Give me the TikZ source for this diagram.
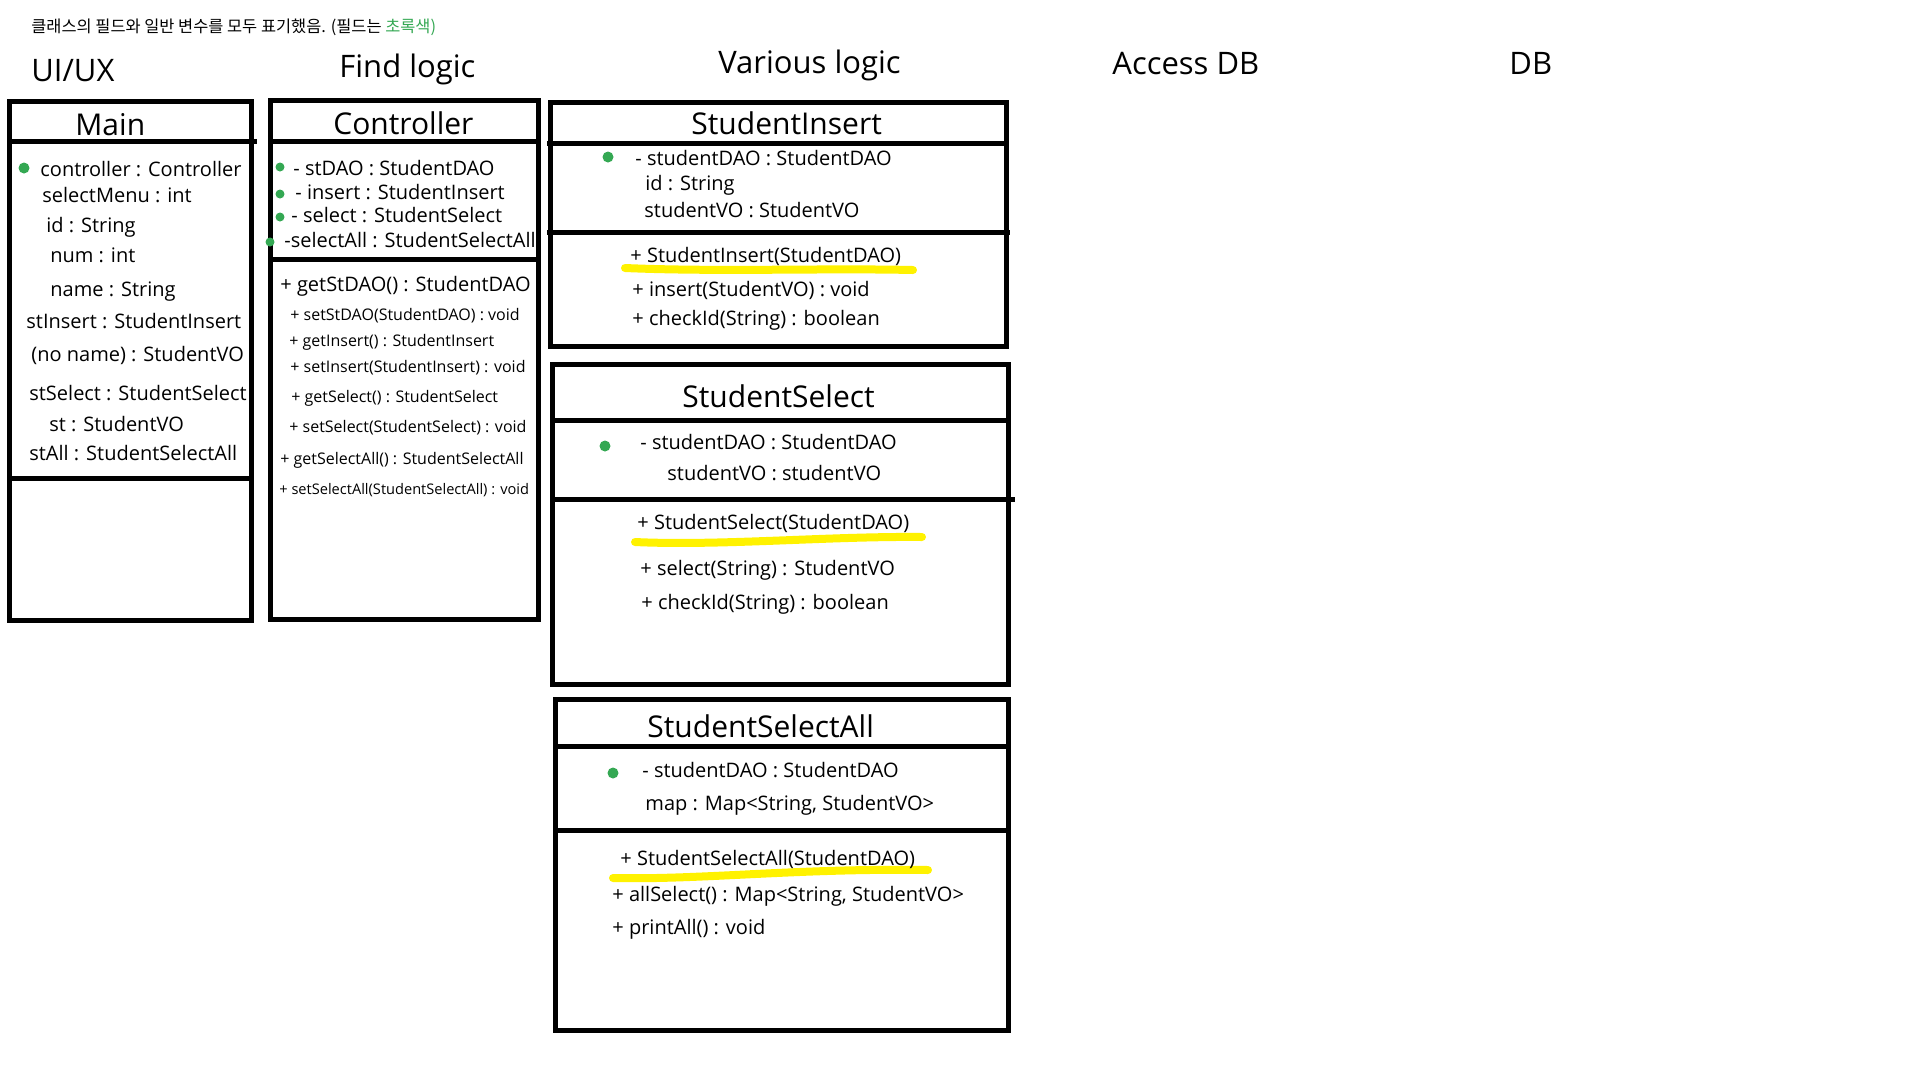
\documentclass[tikz,border=0pt]{standalone}
\usepackage{fontspec}
\setmainfont{Open Sans}
\newfontfamily\krfont{Noto Sans CJK KR}
\definecolor{fieldgreen}{RGB}{52,168,83}
\definecolor{hiyellow}{RGB}{255,242,0}
\tikzset{
  box/.style={line width=2.5pt},
  txt/.style={anchor=base west, inner sep=0pt, font=\fontsize{10}{12}\selectfont},
  small/.style={txt, font=\fontsize{8}{10}\selectfont},
  title/.style={anchor=base west, inner sep=0pt, font=\fontsize{15}{18}\selectfont},
  head/.style={anchor=base west, inner sep=0pt, font=\fontsize{15.5}{18}\selectfont},
  dot/.style={fill=fieldgreen},
  hiline/.style={hiyellow, line width=4pt, line cap=round}
}
\begin{document}
\begin{tikzpicture}[x=0.5pt,y=-0.5pt]
  \useasboundingbox (0,0) rectangle (1924,1084);
  % note and layer names
  \node[txt, font=\krfont\fontsize{8.2}{10}\selectfont] (note) at (31,32)
    {클래스의 필드와 일반 변수를 모두 표기했음. (필드는 \textcolor{fieldgreen}{초록색)}};
  \node[head] (uiux) at (31,81) {UI/UX};
  \node[head] (findlogic) at (339,77) {Find logic};
  \node[head] (various) at (718,73) {Various logic};
  \node[head] (accessdb) at (1112,74) {Access DB};
  \node[head] (db) at (1509,74) {DB};

  % Main
  \draw[box] (9,101) rectangle (251,620);
  \draw[box] (9,141) -- (257,141);
  \draw[box] (9,478) -- (251,478);
  \node[title] (main) at (75,135) {Main};
  \fill[dot] (24,168) circle (5.5);
  \foreach \x/\y/\t [count=\i] in {40/176/controller : Controller,
      42/202/selectMenu : int, 46/232/id : String, 50/262/num : int,
      50/296/name : String, 26/328/stInsert : StudentInsert,
      31/361/(no name) : StudentVO, 29/400/stSelect : StudentSelect,
      49/431/st : StudentVO, 29/460/stAll : StudentSelectAll}
    \node[txt] (mainf\i) at (\x,\y) {\t};

  % Controller
  \draw[box] (270,100) rectangle (538,619);
  \draw[box] (270,141) -- (538,141);
  \draw[box] (270,259) -- (538,259);
  \node[title] (ctrl) at (333,134) {Controller};
  \foreach \x/\y in {280/167,280/194,280/217,270/242}
    \fill[dot] (\x,\y) circle (4.5);
  \foreach \x/\y/\t [count=\i] in {293/175/- stDAO : StudentDAO,
      295/199/- insert : StudentInsert, 291/222/- select : StudentSelect,
      284/247/-selectAll : StudentSelectAll}
    \node[txt] (ctrlf\i) at (\x,\y) {\t};
  \node[txt] (ctrlm1) at (280,291) {+ getStDAO() : StudentDAO};
  \foreach \x/\y/\t [count=\i from 2] in {290/320/+ setStDAO(StudentDAO) : void,
      289/346/+ getInsert() : StudentInsert, 290/372/+ setInsert(StudentInsert) : void,
      291/402/+ getSelect() : StudentSelect, 289/432/+ setSelect(StudentSelect) : void,
      280/464/+ getSelectAll() : StudentSelectAll}
    \node[small] (ctrlm\i) at (\x,\y) {\t};
  \node[small, font=\fontsize{7.3}{9}\selectfont] (ctrlm8) at (279,494)
    {+ setSelectAll(StudentSelectAll) : void};

  % StudentInsert
  \draw[box] (550,102) rectangle (1006,346);
  \draw[box] (547,143) -- (1006,143);
  \draw[box] (547,232) -- (1010,232);
  \node[title] (insert) at (691,134) {StudentInsert};
  \fill[dot] (608,157) circle (5.5);
  \node[txt] (insf1) at (635,165) {- studentDAO : StudentDAO};
  \node[txt] (insf2) at (645,190) {id : String};
  \node[txt] (insf3) at (644,217) {studentVO : StudentVO};
  \draw[hiline] (625,268) .. controls (720,272) and (820,268) .. (913,270);
  \node[txt] (insm1) at (630,262) {+ StudentInsert(StudentDAO)};
  \node[txt] (insm2) at (632,296) {+ insert(StudentVO) : void};
  \node[txt] (insm3) at (632,325) {+ checkId(String) : boolean};

  % StudentSelect
  \draw[box] (552,364) rectangle (1008,684);
  \draw[box] (552,420) -- (1008,420);
  \draw[box] (550,499) -- (1015,499);
  \node[title] (select) at (682,407) {StudentSelect};
  \fill[dot] (605,446) circle (5.5);
  \node[txt] (self1) at (640,449) {- studentDAO : StudentDAO};
  \node[txt] (self2) at (667,480) {studentVO : studentVO};
  \draw[hiline] (635,542) .. controls (720,546) and (830,536) .. (922,537);
  \node[txt] (selm1) at (637,529) {+ StudentSelect(StudentDAO)};
  \node[txt] (selm2) at (640,575) {+ select(String) : StudentVO};
  \node[txt] (selm3) at (641,609) {+ checkId(String) : boolean};

  % StudentSelectAll
  \draw[box] (555,699) rectangle (1008,1030);
  \draw[box] (555,746) -- (1008,746);
  \draw[box] (555,830) -- (1008,830);
  \node[title] (selall) at (647,737) {StudentSelectAll};
  \fill[dot] (613,773) circle (5.5);
  \node[txt] (allf1) at (642,777) {- studentDAO : StudentDAO};
  \node[txt] (allf2) at (645,810) {map : Map<String, StudentVO>};
  \draw[hiline] (613,878) .. controls (700,880) and (800,868) .. (928,870);
  \node[txt] (allm1) at (620,865) {+ StudentSelectAll(StudentDAO)};
  \node[txt] (allm2) at (612,901) {+ allSelect() : Map<String, StudentVO>};
  \node[txt] (allm3) at (612,934) {+ printAll() : void};
\end{tikzpicture}
\end{document}
